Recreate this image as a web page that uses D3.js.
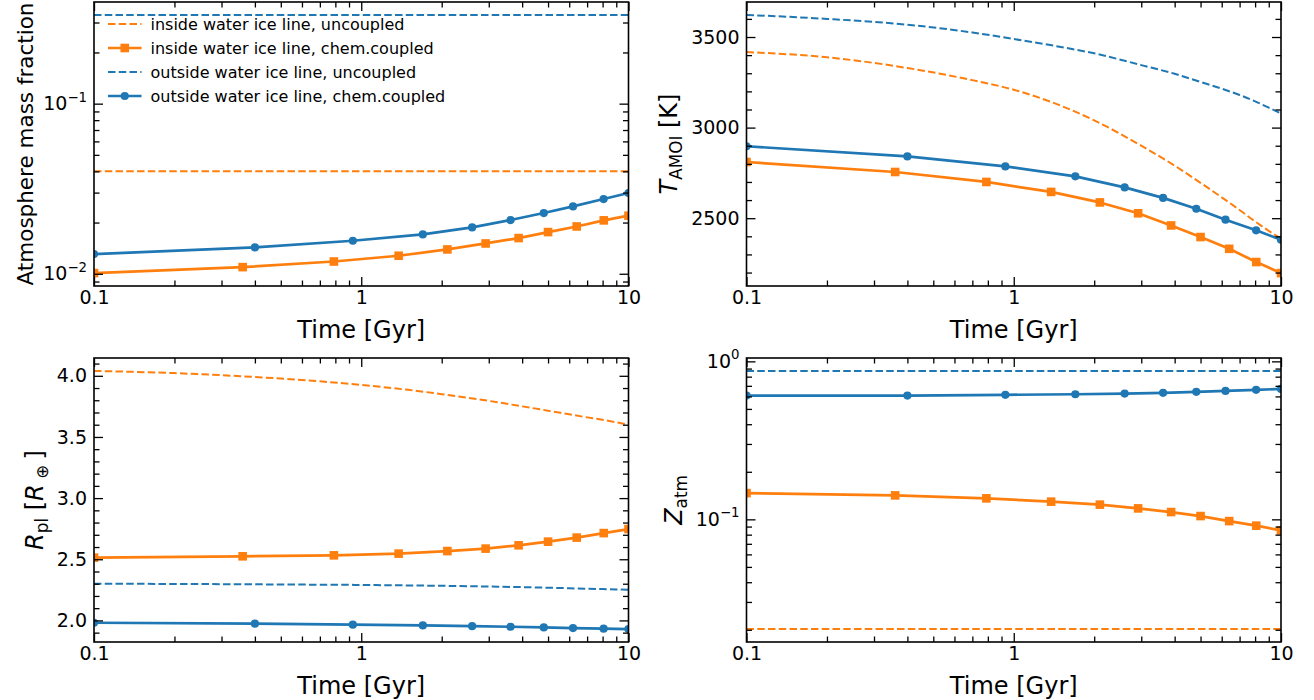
<!DOCTYPE html>
<html><head><meta charset="utf-8">
<script src="https://cdn.jsdelivr.net/npm/d3@7"></script>
<style>
body{margin:0;background:#fff;}
svg{display:block;font-family:"DejaVu Sans",sans-serif;}
</style></head><body>
<svg id="c" width="1314" height="700"></svg>
<script>
// ---------- data ----------
const timeInsideChem  = [0.1, 0.36, 0.79, 1.38, 2.1, 2.92, 3.88, 5.0, 6.4, 8.08, 10];
const timeOutsideChem = [0.1, 0.4, 0.93, 1.7, 2.6, 3.62, 4.82, 6.2, 8.07, 10];
const timeUncoupled   = [0.1, 0.2, 0.4, 0.7, 1, 1.5, 2, 3, 4, 5, 6, 7, 8, 9, 10];

// panel A: atmosphere mass fraction
const atmInsideUnc   = [0.04,0.04,0.04,0.04,0.04,0.04,0.04,0.04,0.04,0.04,0.04,0.04,0.04,0.04,0.04];
const atmInsideChem  = [0.01009,0.01094,0.0118,0.01276,0.0139,0.01507,0.01621,0.01758,0.01897,0.0206,0.02195];
const atmOutsideUnc  = [0.3325,0.3325,0.3325,0.3325,0.3325,0.3325,0.3325,0.3325,0.3325,0.3325,0.3325,0.3325,0.3325,0.3325,0.3325];
const atmOutsideChem = [0.01306,0.01428,0.01563,0.01703,0.01872,0.02069,0.02275,0.02488,0.0275,0.02984];

// panel B: T_AMOI [K]
const tInsideUnc   = [3417,3388,3329,3262,3209,3121,3040,2900,2790,2695,2615,2545,2482,2430,2388];
const tInsideChem  = [2810,2755,2700,2645,2587,2527,2460,2396,2331,2258,2197];
const tOutsideUnc  = [3622,3600,3568,3525,3489,3445,3410,3345,3297,3252,3215,3180,3145,3110,3078];
const tOutsideChem = [2897,2841,2786,2731,2670,2612,2552,2492,2433,2381];

// panel C: R_pl [R_earth]
const rInsideUnc   = [4.04,4.022,3.99,3.955,3.925,3.885,3.85,3.795,3.75,3.715,3.685,3.66,3.64,3.62,3.60];
const rInsideChem  = [2.513,2.524,2.532,2.546,2.567,2.587,2.614,2.644,2.677,2.714,2.747];
const rOutsideUnc  = [2.30,2.298,2.295,2.292,2.29,2.286,2.283,2.277,2.272,2.267,2.263,2.259,2.256,2.253,2.25];
const rOutsideChem = [1.981,1.973,1.965,1.959,1.953,1.948,1.943,1.937,1.932,1.929];

// panel D: Z_atm
const zInsideUnc   = [0.0202,0.0202,0.0202,0.0202,0.0202,0.0202,0.0202,0.0202,0.0202,0.0202,0.0202,0.0202,0.0202,0.0202,0.0202];
const zInsideChem  = [0.1466,0.1418,0.1358,0.1294,0.1239,0.1173,0.1112,0.1049,0.0975,0.0912,0.0852];
const zOutsideUnc  = [0.87,0.87,0.87,0.87,0.87,0.87,0.87,0.87,0.87,0.87,0.87,0.87,0.87,0.87,0.87];
const zOutsideChem = [0.607,0.607,0.614,0.619,0.625,0.632,0.641,0.650,0.660,0.669];

// ticks
const xTickValues = [0.1, 1, 10];
const xTickLabels = ["0.1", "1", "10"];
const atmTickValues = [0.01, 0.1];
const atmTickExps = ["\u22122", "\u22121"];
const tTickValues = [2500, 3000, 3500];
const tTickLabels = ["2500", "3000", "3500"];
const rTickValues = [2.0, 2.5, 3.0, 3.5, 4.0];
const rTickLabels = ["2.0", "2.5", "3.0", "3.5", "4.0"];
const zTickValues = [0.1, 1];
const zTickExps = ["\u22121", "0"];

const legendLabels = ["inside water ice line, uncoupled", "inside water ice line, chem.coupled",
                      "outside water ice line, uncoupled", "outside water ice line, chem.coupled"];

// ---------- style ----------
const ORANGE = "#ff7f0e", BLUE = "#1f77b4";
const TICK_FS = 19, LABEL_FS = 24, LEG_FS = 16;
const MAJ = 9, MIN = 5.5;

const svg = d3.select("#c");
const cols = [{x0: 94, x1: 628.5}, {x0: 746.5, x1: 1281}];
const rows = [{y0: 2, y1: 286}, {y0: 358, y1: 642}];

const panels = [
  {c:0, r:0, type:"log", data:[atmInsideUnc, atmInsideChem, atmOutsideUnc, atmOutsideChem],
   yt: atmTickValues, ylab: atmTickExps, logLabels:true, labelFs: 21.5,
   label:[{t:"Atmosphere mass fraction"}], legend:true},
  {c:1, r:0, type:"lin", data:[tInsideUnc, tInsideChem, tOutsideUnc, tOutsideChem],
   yt: tTickValues, ylab: tTickLabels,
   label:[{t:"T", it:true},{t:"AMOI", sub:true},{t:" [K]"}]},
  {c:0, r:1, type:"lin", data:[rInsideUnc, rInsideChem, rOutsideUnc, rOutsideChem],
   yt: rTickValues, ylab: rTickLabels,
   label:[{t:"R", it:true},{t:"pl", sub:true},{t:" ["},{t:"R", it:true},{t:" \u2295 ", sub:true},{t:"]"}]},
  {c:1, r:1, type:"log", data:[zInsideUnc, zInsideChem, zOutsideUnc, zOutsideChem],
   yt: zTickValues, ylab: zTickExps, logLabels:true,
   label:[{t:"Z", it:true},{t:"atm", sub:true}]}
];

function paddedDomain(vals, log) {
  const v = log ? vals.map(Math.log10) : vals;
  const lo = d3.min(v), hi = d3.max(v), m = (hi - lo) * 0.05;
  return log ? [Math.pow(10, lo - m), Math.pow(10, hi + m)] : [lo - m, hi + m];
}

panels.forEach((p, pi) => {
  const {x0, x1} = cols[p.c], {y0, y1} = rows[p.r];
  const x = d3.scaleLog().domain([0.1, 10]).range([x0, x1]);
  const all = [].concat(...p.data);
  const dom = paddedDomain(all, p.type === "log");
  const y = (p.type === "log" ? d3.scaleLog() : d3.scaleLinear()).domain(dom).range([y1, y0]);

  const clipId = "clip" + pi;
  svg.append("clipPath").attr("id", clipId).append("rect")
    .attr("x", x0).attr("y", y0).attr("width", x1 - x0).attr("height", y1 - y0);

  const plot = svg.append("g").attr("clip-path", `url(#${clipId})`);
  const lineSolid = d3.line().x(d => x(d[0])).y(d => y(d[1]));
  const lineSmooth = d3.line().x(d => x(d[0])).y(d => y(d[1])).curve(d3.curveMonotoneX);

  const series = [
    {t: timeUncoupled, v: p.data[0], color: ORANGE, dashed: true},
    {t: timeInsideChem, v: p.data[1], color: ORANGE, marker: "square"},
    {t: timeUncoupled, v: p.data[2], color: BLUE, dashed: true},
    {t: timeOutsideChem, v: p.data[3], color: BLUE, marker: "circle"}
  ];
  series.forEach(s => {
    const pts = s.t.map((t, i) => [t, s.v[i]]);
    plot.append("path").attr("d", (s.dashed ? lineSmooth : lineSolid)(pts)).attr("fill", "none").attr("stroke", s.color)
      .attr("stroke-width", s.dashed ? 2 : 2.7)
      .attr("stroke-dasharray", s.dashed ? "7.5,3.25" : null)
      .attr("stroke-linejoin", "round").attr("stroke-linecap", s.dashed ? "butt" : "round");
    if (s.marker === "square") {
      plot.selectAll(null).data(pts).enter().append("rect")
        .attr("x", d => x(d[0]) - 4.3).attr("y", d => y(d[1]) - 4.3)
        .attr("width", 8.6).attr("height", 8.6).attr("fill", s.color);
    } else if (s.marker === "circle") {
      plot.selectAll(null).data(pts).enter().append("circle")
        .attr("cx", d => x(d[0])).attr("cy", d => y(d[1])).attr("r", 4.1).attr("fill", s.color);
    }
  });

  // axes
  const xMinor = x.ticks().filter(v => !xTickValues.some(m => Math.abs(m - v) < 1e-9));
  let yMinor;
  if (p.type === "log") yMinor = y.ticks().filter(v => !p.yt.some(m => Math.abs(m - v) / m < 1e-9));
  else yMinor = y.ticks(20).filter(v => !p.yt.some(m => Math.abs(m - v) < 1e-9));

  function styleAxis(g) {
    g.select(".domain").remove();
    g.selectAll("line").attr("stroke", "#000").attr("stroke-width", 1.3);
    g.selectAll("text").attr("fill", "#000");
    g.attr("font-family", "DejaVu Sans").attr("font-size", TICK_FS);
  }
  // bottom
  svg.append("g").attr("transform", `translate(0,${y1})`)
    .call(d3.axisBottom(x).tickValues(xTickValues).tickSize(-MAJ).tickPadding(5)
      .tickFormat((d, i) => xTickLabels[i])).call(styleAxis);
  svg.append("g").attr("transform", `translate(0,${y1})`)
    .call(d3.axisBottom(x).tickValues(xMinor).tickSize(-MIN).tickFormat("")).call(styleAxis);
  // top
  svg.append("g").attr("transform", `translate(0,${y0})`)
    .call(d3.axisTop(x).tickValues(xTickValues).tickSize(-MAJ).tickFormat("")).call(styleAxis);
  svg.append("g").attr("transform", `translate(0,${y0})`)
    .call(d3.axisTop(x).tickValues(xMinor).tickSize(-MIN).tickFormat("")).call(styleAxis);
  // left
  const leftG = svg.append("g").attr("transform", `translate(${x0},0)`)
    .call(d3.axisLeft(y).tickValues(p.yt).tickSize(-MAJ).tickPadding(7)
      .tickFormat((d, i) => p.logLabels ? "" : p.ylab[i])).call(styleAxis);
  if (p.logLabels) {
    leftG.selectAll(".tick text").each(function(d, i) {
      const t = d3.select(this);
      t.append("tspan").text("10");
      t.append("tspan").attr("dy", -8.5).attr("font-size", 13.3).text(p.ylab[i]);
    });
  }
  svg.append("g").attr("transform", `translate(${x0},0)`)
    .call(d3.axisLeft(y).tickValues(yMinor).tickSize(-MIN).tickFormat("")).call(styleAxis);
  // right
  svg.append("g").attr("transform", `translate(${x1},0)`)
    .call(d3.axisRight(y).tickValues(p.yt).tickSize(-MAJ).tickFormat("")).call(styleAxis);
  svg.append("g").attr("transform", `translate(${x1},0)`)
    .call(d3.axisRight(y).tickValues(yMinor).tickSize(-MIN).tickFormat("")).call(styleAxis);

  // frame
  svg.append("rect").attr("x", x0).attr("y", y0).attr("width", x1 - x0).attr("height", y1 - y0)
    .attr("fill", "none").attr("stroke", "#000").attr("stroke-width", 1.6);

  // x label
  svg.append("text").attr("x", (x0 + x1) / 2).attr("y", y1 + 52)
    .attr("text-anchor", "middle").attr("font-size", LABEL_FS).text("Time [Gyr]");

  // y label
  const fs = p.labelFs || LABEL_FS;
  let minX = Infinity;
  leftG.selectAll(".tick text").each(function() {
    const b = this.getBoundingClientRect(); minX = Math.min(minX, b.left);
  });
  const cy = (y0 + y1) / 2;
  const bx = minX - 6 - 0.236 * fs;
  const lab = svg.append("text").attr("text-anchor", "middle").attr("font-size", fs)
    .attr("transform", `translate(${bx},${cy}) rotate(-90)`);
  let shift = 0;
  p.label.forEach(s => {
    const ts = lab.append("tspan").text(s.t);
    if (s.it) ts.attr("font-style", "italic");
    if (s.sub) { ts.attr("font-size", fs * 0.7).attr("dy", 5 - shift); shift = 5; }
    else if (shift) { ts.attr("dy", -shift); shift = 0; }
  });
  const lb = lab.node().getBoundingClientRect();
  const wantRight = minX - 5;
  lab.attr("transform", `translate(${bx + (wantRight - lb.right)},${cy}) rotate(-90)`);

  // legend
  if (p.legend) {
    const lg = svg.append("g");
    const hx0 = 108, hx1 = 141.5, ly0 = 24, dyl = 24;
    series.forEach((s, i) => {
      const yy = ly0 + i * dyl;
      lg.append("line").attr("x1", hx0).attr("x2", hx1).attr("y1", yy).attr("y2", yy)
        .attr("stroke", s.color).attr("stroke-width", s.dashed ? 2 : 2.7)
        .attr("stroke-dasharray", s.dashed ? "7.5,3.25" : null);
      const mx = (hx0 + hx1) / 2;
      if (s.marker === "square") lg.append("rect").attr("x", mx - 4.3).attr("y", yy - 4.3)
        .attr("width", 8.6).attr("height", 8.6).attr("fill", s.color);
      if (s.marker === "circle") lg.append("circle").attr("cx", mx).attr("cy", yy).attr("r", 4.1).attr("fill", s.color);
      lg.append("text").attr("x", 150.5).attr("y", yy + 5.5).attr("font-size", LEG_FS).text(legendLabels[i]);
    });
  }
});
</script>
</body></html>
